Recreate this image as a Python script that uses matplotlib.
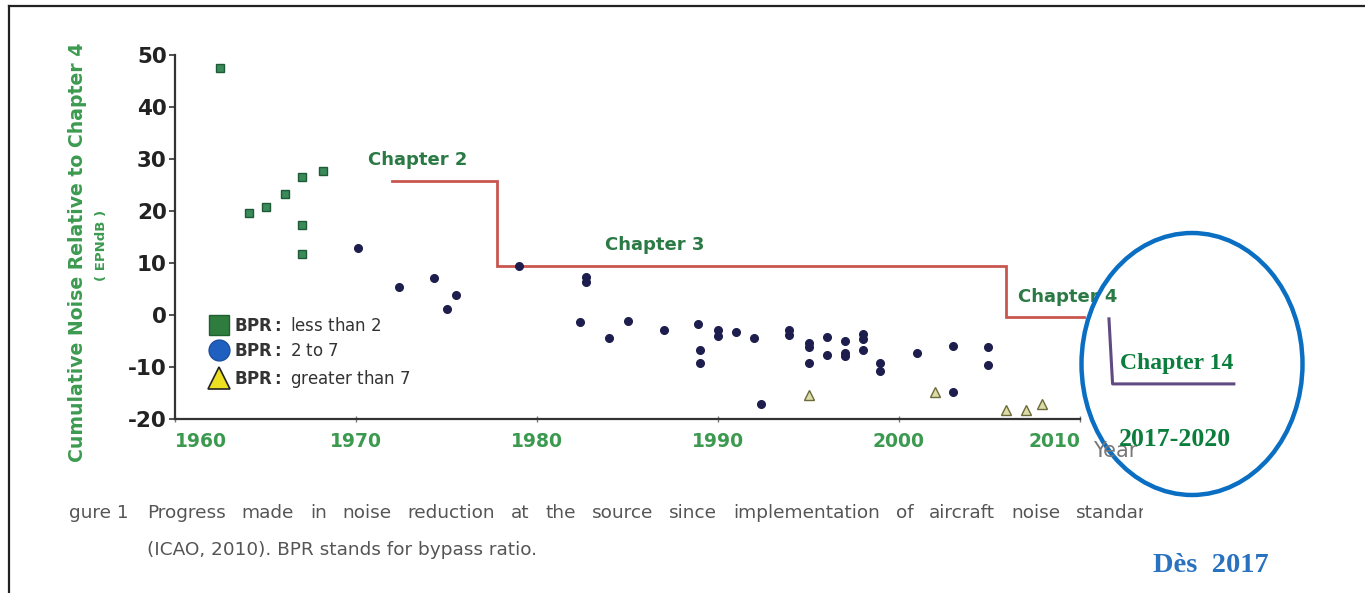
import matplotlib
matplotlib.use("Agg")
import matplotlib.pyplot as plt
from matplotlib import font_manager
from matplotlib.lines import Line2D
from matplotlib.patches import Ellipse
from matplotlib.transforms import Bbox, TransformedBbox

plt.rcParams["axes.unicode_minus"] = False

# ---------------- data ----------------
sq_years = [1962.5, 1964.1, 1965.0, 1966.1, 1967.0, 1968.2, 1967.0, 1967.0]
sq_vals = [47.5, 19.7, 20.8, 23.2, 26.6, 27.8, 17.3, 11.8]

ci_years = [1970.1, 1972.4, 1974.3, 1975.5, 1975.0, 1979.0, 1982.7, 1982.7, 1982.4,
            1984.0, 1985.0, 1987.0, 1988.9, 1989.0, 1989.0, 1990.0, 1990.0, 1991.0,
            1992.0, 1992.4, 1993.9, 1993.9, 1995.0, 1995.0, 1995.0, 1996.0, 1996.0,
            1997.0, 1997.0, 1997.0, 1998.0, 1998.0, 1998.0, 1998.95, 1998.95,
            2001.0, 2003.0, 2003.0, 2004.9, 2004.9]
ci_vals = [12.9, 5.5, 7.2, 3.9, 1.1, 9.5, 7.3, 6.4, -1.3,
           -4.3, -1.2, -2.8, -1.7, -6.6, -9.1, -2.8, -4.0, -3.3,
           -4.3, -17.1, -2.8, -3.8, -5.3, -6.1, -9.2, -4.2, -7.6,
           -4.9, -7.3, -7.8, -3.6, -4.6, -6.7, -9.1, -10.7,
           -7.2, -5.9, -14.7, -6.1, -9.6]

tr_years = [1995.0, 2002.0, 2005.9, 2007.0, 2007.9]
tr_vals = [-15.3, -14.7, -18.2, -18.2, -17.1]

# regulatory limit steps (Chapter 2 -> 3 -> 4)
limit_years = [1972.0, 1977.8, 1977.8, 2005.9, 2005.9, 2010.2]
limit_vals = [25.8, 25.8, 9.5, 9.5, -0.3, -0.3]

# Chapter 14 hand-drawn mark
ch14_years = [2011.6, 2011.8, 2018.5]
ch14_vals = [-0.7, -13.2, -13.2]

chapter_labels = ["Chapter 2", "Chapter 3", "Chapter 4"]
chapter_label_x = [1973.4, 1986.5, 2009.3]
chapter_label_y = [29.8, 13.5, 3.5]

x_ticks = [1960, 1970, 1980, 1990, 2000, 2010]
y_ticks = [-20, -10, 0, 10, 20, 30, 40, 50]

legend_labels = [r"$\mathbf{BPR:}$ less than 2", r"$\mathbf{BPR:}$ 2 to 7",
                 r"$\mathbf{BPR:}$ greater than 7"]

# ---------------- figure ----------------
W, H = 1365, 593
fig = plt.figure(figsize=(W / 100, H / 100), dpi=100)
fig.patch.set_facecolor("white")

def fx(px):
    return px / W

def fy(py):
    return 1 - py / H

installed = {f.name for f in font_manager.fontManager.ttflist}
if "Liberation Sans Narrow" in installed:
    xt_family, xt_size = "Liberation Sans Narrow", 17
else:
    xt_family, xt_size = "DejaVu Sans", 13.5

ax = fig.add_axes([fx(175), fy(419.3), fx(1080) - fx(175), fy(55) - fy(419.3)])
ax.set_xlim(1960, 2010)
ax.set_ylim(-20, 50)
ax.set_facecolor("none")
for s in ["top", "right"]:
    ax.spines[s].set_visible(False)
for s in ["left", "bottom"]:
    ax.spines[s].set_color("#333333")
    ax.spines[s].set_linewidth(1.6)

GREEN_TXT = "#2b7a45"
AX_GREEN = "#3c9a50"

ax.set_xticks(x_ticks)
ax.set_yticks(y_ticks)
ax.tick_params(axis="y", direction="out", length=4, width=1.2, color="#333333",
               labelsize=15.5, labelcolor="#222222", pad=2)
ax.tick_params(axis="x", direction="inout", length=5, width=1.0, color="#777777",
               labelsize=xt_size, labelcolor=AX_GREEN, pad=7)
for lbl in ax.get_yticklabels():
    lbl.set_fontweight("bold")
for lbl in ax.get_xticklabels():
    lbl.set_fontweight("bold")
    lbl.set_family(xt_family)
xl = ax.get_xticklabels()
xl[0].set_horizontalalignment("left")
xl[-1].set_horizontalalignment("right")

# limits
ax.plot(limit_years, limit_vals, color="#c8564f", lw=2.0, solid_joinstyle="miter",
        clip_on=False, zorder=2)
for t, x, y in zip(chapter_labels, chapter_label_x, chapter_label_y):
    ax.text(x, y, t, color=GREEN_TXT, fontsize=13, fontweight="bold",
            ha="center", va="center", clip_on=False)

# data markers
ax.plot(sq_years, sq_vals, ls="none", marker="s", ms=5.5, mfc="#3a8a5a",
        mec="#1d5a38", mew=1.0, zorder=3)
ax.plot(ci_years, ci_vals, ls="none", marker="o", ms=5.5, mfc="#1e1e4e",
        mec="#1e1e4e", zorder=3)
ax.plot(tr_years, tr_vals, ls="none", marker="^", ms=7, mfc="#dcdca8",
        mec="#6b6b3a", mew=1.0, zorder=3)

# legend (proxy handles in the legend colours)
handles = [
    Line2D([], [], ls="none", marker="s", ms=15, mfc="#2e7d3e", mec="#1f6030"),
    Line2D([], [], ls="none", marker="o", ms=15, mfc="#1f5fbf", mec="#1a4f9f"),
    Line2D([], [], ls="none", marker="^", ms=16, mfc="#ece020", mec="#222222", mew=1.2),
]
leg = ax.legend(handles, legend_labels, loc="upper left",
                bbox_to_anchor=(0.028, 0.305), frameon=False, fontsize=12,
                handletextpad=0.3, labelspacing=0.45, borderpad=0, handlelength=1.2)
for t in leg.get_texts():
    t.set_color("#333333")

# Chapter 14 hand-drawn mark
ax.plot(ch14_years, ch14_vals, color="#5f4a82", lw=2.2, clip_on=False, zorder=4)

# axis labels
fig.text(fx(78), fy(252), "Cumulative Noise Relative to Chapter 4", rotation=90,
         color=AX_GREEN, fontsize=13.6, fontweight="bold", ha="center", va="center")
fig.text(fx(101), fy(245), "( EPNdB )", rotation=90, color=AX_GREEN, fontsize=9.5,
         fontweight="bold", ha="center", va="center")
fig.text(fx(1093), fy(451), "Year", color="#777777", fontsize=15,
         ha="left", va="center")

# ellipse highlight
ell = Ellipse((fx(1192), fy(364)), fx(221), 262 / H, transform=fig.transFigure,
              fill=False, edgecolor="#0a6fc2", lw=3.2)
fig.add_artist(ell)

serif = ["Liberation Serif", "DejaVu Serif"]
fig.text(fx(1177), fy(364), "Chapter 14", family=serif, fontweight="bold",
         fontsize=17, color="#0b7d3c", ha="center", va="center")
fig.text(fx(1175), fy(439), "2017-2020", family=serif, fontweight="bold",
         fontsize=18.5, color="#0b7d3c", ha="center", va="center")
fig.text(fx(1211), fy(565), "Dès  2017", family=serif, fontweight="bold",
         fontsize=20.5, color="#2872c0", ha="center", va="center")

# caption (justified first line, cropped on the right)
clip = TransformedBbox(Bbox([[fx(68), 0], [fx(1143), 1]]), fig.transFigure)
cap_color = "#555555"
cap_size = 13.3
fig.text(fx(69), fy(513), "gure 1", fontsize=cap_size, color=cap_color,
         ha="left", va="center")
words = "Progress made in noise reduction at the source since implementation of aircraft noise standard".split()
fig.canvas.draw()
renderer = fig.canvas.get_renderer()
wtexts = [fig.text(0, fy(513), w, fontsize=cap_size, color=cap_color, ha="left",
                   va="center") for w in words]
widths = [t.get_window_extent(renderer).width for t in wtexts]
x0, x1 = 147, 1158
gap = (x1 - x0 - sum(widths)) / (len(words) - 1)
x = x0
for t, w in zip(wtexts, widths):
    t.set_x(fx(x))
    t.set_clip_box(clip)
    t.set_clip_on(True)
    x += w + gap
fig.text(fx(147), fy(550), "(ICAO, 2010). BPR stands for bypass ratio.",
         fontsize=cap_size, color=cap_color, ha="left", va="center")

# page border
fig.add_artist(Line2D([fx(9), 1], [fy(6), fy(6)], transform=fig.transFigure,
                      color="#222222", lw=1.6))
fig.add_artist(Line2D([fx(9), fx(9)], [fy(6), 0], transform=fig.transFigure,
                      color="#222222", lw=1.6))

fig.savefig("out.png", dpi=100, facecolor="white")
